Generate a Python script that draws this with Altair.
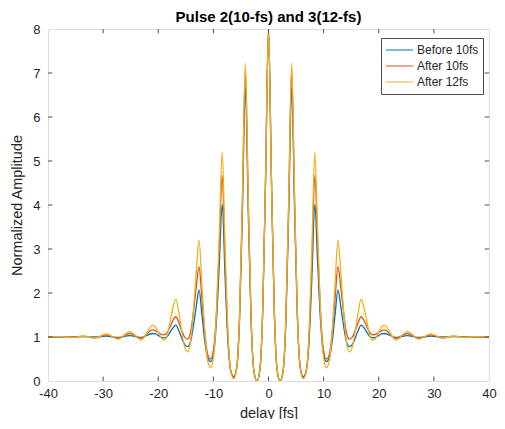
import altair as alt
import pandas as pd

# ---- data ----
delay = [-40, -37.8, -35.7, -33.6, -31.5, -29.4, -27.3, -25.2, -23.1,
         -21.0, -20.475, -19.95, -19.425, -18.9, -18.375, -17.85, -17.325,
         -16.8, -16.275, -15.75, -15.225, -14.7, -14.175, -13.65, -13.125,
         -12.6, -12.075, -11.55, -11.025, -10.5, -9.975, -9.45, -8.925,
         -8.4, -7.875, -7.35, -6.825, -6.3, -5.775, -5.25, -4.725,
         -4.2, -3.675, -3.15, -2.625, -2.1, -1.575, -1.05, -0.525,
         0.0,
         0.525, 1.05, 1.575, 2.1, 2.625, 3.15, 3.675, 4.2,
         4.725, 5.25, 5.775, 6.3, 6.825, 7.35, 7.875, 8.4,
         8.925, 9.45, 9.975, 10.5, 11.025, 11.55, 12.075, 12.6,
         13.125, 13.65, 14.175, 14.7, 15.225, 15.75, 16.275, 16.8,
         17.325, 17.85, 18.375, 18.9, 19.425, 19.95, 20.475, 21.0,
         23.1, 25.2, 27.3, 29.4, 31.5, 33.6, 35.7, 37.8, 40]

before_10fs = [1.0, 1.0, 1.0, 1.01, 1.0, 1.02, 0.99, 1.03, 0.99,
               1.08, 1.07, 1.03, 0.99, 0.98, 1.01, 1.11, 1.21,
               1.27, 1.15, 0.98, 0.83, 0.78, 0.88, 1.23, 1.68,
               2.07, 1.5, 0.9, 0.52, 0.44, 0.62, 1.34, 2.66,
               4.02, 2.37, 0.88, 0.22, 0.1, 0.3, 1.41, 3.91,
               6.67, 3.87, 1.33, 0.2, 0.0, 0.24, 1.6, 4.64,
               8.0,
               4.64, 1.6, 0.24, 0.0, 0.2, 1.33, 3.87, 6.67,
               3.91, 1.41, 0.3, 0.1, 0.22, 0.88, 2.37, 4.02,
               2.66, 1.34, 0.62, 0.44, 0.52, 0.9, 1.5, 2.07,
               1.68, 1.23, 0.88, 0.78, 0.83, 0.98, 1.15, 1.27,
               1.21, 1.11, 1.01, 0.98, 0.99, 1.03, 1.07, 1.08,
               0.99, 1.03, 0.99, 1.02, 1.0, 1.01, 1.0, 1.0, 1.0]

after_10fs = [1.0, 1.01, 1.0, 1.02, 0.98, 1.05, 0.97, 1.08, 0.97,
              1.16, 1.14, 1.1, 1.06, 1.05, 1.1, 1.23, 1.38,
              1.46, 1.33, 1.15, 1.0, 0.95, 1.08, 1.53, 2.11,
              2.6, 1.87, 1.09, 0.6, 0.5, 0.71, 1.55, 3.09,
              4.68, 2.75, 1.0, 0.22, 0.08, 0.29, 1.48, 4.15,
              7.1, 4.12, 1.42, 0.21, 0.0, 0.24, 1.6, 4.64,
              8.0,
              4.64, 1.6, 0.24, 0.0, 0.21, 1.42, 4.12, 7.1,
              4.15, 1.48, 0.29, 0.08, 0.22, 1.0, 2.75, 4.68,
              3.09, 1.55, 0.71, 0.5, 0.6, 1.09, 1.87, 2.6,
              2.11, 1.53, 1.08, 0.95, 1.0, 1.15, 1.33, 1.46,
              1.38, 1.23, 1.1, 1.05, 1.06, 1.1, 1.14, 1.16,
              0.97, 1.08, 0.97, 1.05, 0.98, 1.02, 1.0, 1.01, 1.0]

after_12fs = [1.0, 1.01, 0.99, 1.02, 0.98, 1.07, 0.95, 1.12, 0.93,
              1.27, 1.22, 1.1, 0.97, 0.93, 1.04, 1.35, 1.67,
              1.86, 1.56, 1.14, 0.78, 0.66, 0.86, 1.55, 2.44,
              3.2, 2.19, 1.11, 0.45, 0.3, 0.55, 1.53, 3.34,
              5.2, 3.04, 1.08, 0.2, 0.05, 0.27, 1.48, 4.21,
              7.22, 4.19, 1.44, 0.22, 0.0, 0.24, 1.6, 4.64,
              8.0,
              4.64, 1.6, 0.24, 0.0, 0.22, 1.44, 4.19, 7.22,
              4.21, 1.48, 0.27, 0.05, 0.2, 1.08, 3.04, 5.2,
              3.34, 1.53, 0.55, 0.3, 0.45, 1.11, 2.19, 3.2,
              2.44, 1.55, 0.86, 0.66, 0.78, 1.14, 1.56, 1.86,
              1.67, 1.35, 1.04, 0.93, 0.97, 1.1, 1.22, 1.27,
              0.93, 1.12, 0.95, 1.07, 0.98, 1.02, 0.99, 1.01, 1.0]

series_names = ["Before 10fs", "After 10fs", "After 12fs"]
series_colors = ["#0072BD", "#D95319", "#EDB120"]
x_ticks = [-40, -30, -20, -10, 0, 10, 20, 30, 40]
y_ticks = [0, 1, 2, 3, 4, 5, 6, 7, 8]

# ---- build tables ----
rows = []
for name, vals in zip(series_names, [before_10fs, after_10fs, after_12fs]):
    for d, v in zip(delay, vals):
        rows.append({"delay": d, "amp": v, "series": name})
df = pd.DataFrame(rows)

tick_y = 0.1   # inward tick length in y units
tick_x = 0.8   # inward tick length in x units
xt_bottom = pd.DataFrame({"delay": x_ticks[1:-1], "amp": 0, "amp2": tick_y})
xt_top = pd.DataFrame({"delay": x_ticks[1:-1], "amp": 8, "amp2": 8 - tick_y})
yt_left = pd.DataFrame({"amp": y_ticks[1:-1], "delay": -40, "delay2": -40 + tick_x})
yt_right = pd.DataFrame({"amp": y_ticks[1:-1], "delay": 40, "delay2": 40 - tick_x})

FONT = "Liberation Sans"
AX = "#4d4d4d"
TXT = "#262626"
W, H = 441, 352

x_scale = alt.Scale(domain=[-40, 40], nice=False, zero=False)
y_scale = alt.Scale(domain=[0, 8], nice=False, zero=False)

x_axis = alt.Axis(values=x_ticks, tickSize=0, domain=False, grid=False,
                  labelFlush=False, labelOverlap=False,
                  labelExpr="'' + datum.value",
                  labelFontSize=13, labelFont=FONT, labelColor=TXT, labelPadding=6,
                  title="delay [fs]", titleFont=FONT, titleFontSize=14.5,
                  titleFontWeight="normal", titleColor=TXT, titlePadding=6)
y_axis = alt.Axis(values=y_ticks, tickSize=0, domain=False, grid=False,
                  labelFlush=False, labelOverlap=False,
                  labelExpr="'' + datum.value",
                  labelFontSize=13, labelFont=FONT, labelColor=TXT, labelPadding=8,
                  title="Normalized Amplitude", titleFont=FONT, titleFontSize=14.5,
                  titleFontWeight="normal", titleColor=TXT, titlePadding=8)

X = alt.X("delay:Q", scale=x_scale, axis=x_axis)
Y = alt.Y("amp:Q", scale=y_scale, axis=y_axis)

color = alt.Color(
    "series:N",
    scale=alt.Scale(domain=series_names, range=series_colors),
    legend=alt.Legend(title=None, orient="none", legendX=333, legendY=9,
                      direction="vertical", symbolType="stroke", symbolSize=729,
                      symbolStrokeWidth=1.2, clipHeight=16, rowPadding=0,
                      labelFontSize=12, labelFont=FONT, labelColor=TXT,
                      fillColor="white", strokeColor=AX,
                      padding=4, labelOffset=3),
)

layers = []
for s in series_names:
    layers.append(
        alt.Chart(df).transform_filter(alt.datum.series == s)
        .mark_line(interpolate="monotone", strokeWidth=1.3, clip=True)
        .encode(x=X, y=Y, color=color)
    )

tick_style = dict(color=AX, strokeWidth=1)
ticks = [
    alt.Chart(xt_bottom).mark_rule(**tick_style).encode(x=X, y=Y, y2="amp2:Q"),
    alt.Chart(xt_top).mark_rule(**tick_style).encode(x=X, y=Y, y2="amp2:Q"),
    alt.Chart(yt_left).mark_rule(**tick_style).encode(x=X, x2="delay2:Q", y=Y),
    alt.Chart(yt_right).mark_rule(**tick_style).encode(x=X, x2="delay2:Q", y=Y),
]

chart = alt.layer(*layers, *ticks).properties(
    width=W, height=H,
    title=alt.TitleParams("Pulse 2(10-fs) and 3(12-fs)", font=FONT, fontSize=15,
                          fontWeight="bold", color="#000000", offset=-2, anchor="middle"),
    autosize=alt.AutoSizeParams(type="none"),
    padding={"left": 40, "top": 21, "right": 8, "bottom": 38},
).configure_view(stroke=AX, strokeWidth=1).configure(background="white")

chart.save("out.html", embed_options={"renderer": "svg", "actions": False})
